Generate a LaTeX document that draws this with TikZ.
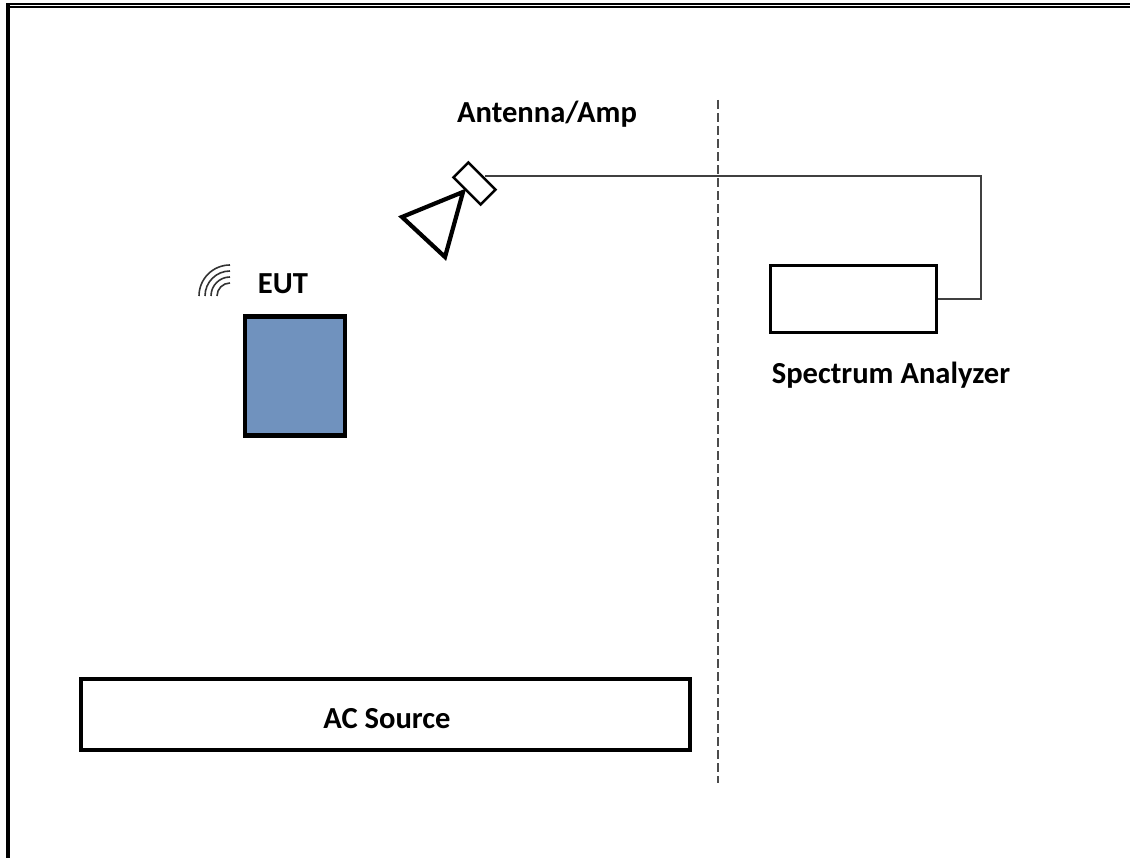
\documentclass[tikz,border=0pt]{standalone}
\usepackage{fontspec}
\setmainfont{Carlito}
\usepackage{tikz}
\tikzset{
  labeltext/.style={font=\fontsize{8.7}{10}\selectfont\bfseries, inner sep=0pt},
  unitbox/.style={draw, line width=0.7pt, inner sep=0pt},
  thickbox/.style={draw, line width=1.4pt, inner sep=0pt}
}
\begin{document}
\begin{tikzpicture}
\useasboundingbox (0,0) rectangle (11.30,8.58);
% frame
\fill (0.06,0) rectangle (0.10,8.55);
\fill (0.06,8.53) rectangle (11.30,8.55);
\fill (0.06,8.50) rectangle (11.30,8.515);
% boxes
\node[thickbox, fill={rgb,255:red,112;green,146;blue,190}, minimum width=1.00cm, minimum height=1.19cm] (eut) at (2.95,4.82) {};
\node[draw, line width=1.1pt, inner sep=0pt, minimum width=6.09cm, minimum height=0.71cm] (acsource) at (3.855,1.435) {};
\node[unitbox, minimum width=1.66cm, minimum height=0.67cm] (analyzer) at (8.535,5.59) {};
\node[unitbox, fill=white, rotate=-45, minimum width=0.385cm, minimum height=0.21cm] (amp) at (4.745,6.745) {};
% horn
\coordinate (hornapex) at (4.63,6.66);
\coordinate (hornleft) at (4.02,6.41);
\coordinate (hornright) at (4.45,6.01);
\draw[line width=1.2pt, line join=miter] (hornapex)--(hornleft)--(hornright)--cycle;
% labels
\node[labeltext] (antlabel) at (5.47,7.44) {Antenna/Amp};
\node[labeltext] (eutlabel) at (2.83,5.74) {EUT};
\node[labeltext] (analabel) at (8.91,4.83) {Spectrum Analyzer};
\node[labeltext] (aclabel) at (3.87,1.39) {AC Source};
% cable
\coordinate (ampport) at (4.85,6.82);
\coordinate (cablecorner) at (9.81,6.82);
\draw[line width=0.45pt, black!75] (ampport)--(cablecorner)|-(analyzer.east);
% divider
\coordinate (divtop) at (7.18,7.58);
\coordinate (divbottom) at (7.18,0.75);
\draw[line width=0.5pt, black!70, dash pattern=on 2.5pt off 1.2pt] (divtop)--(divbottom);
% wireless icon
\coordinate (wavecenter) at (2.30,5.62);
\foreach \r in {0.13,0.19,0.25,0.31}
  \draw[line width=0.45pt, black!80] ([shift={(180:\r)}]wavecenter) arc (180:90:\r);
\end{tikzpicture}
\end{document}
